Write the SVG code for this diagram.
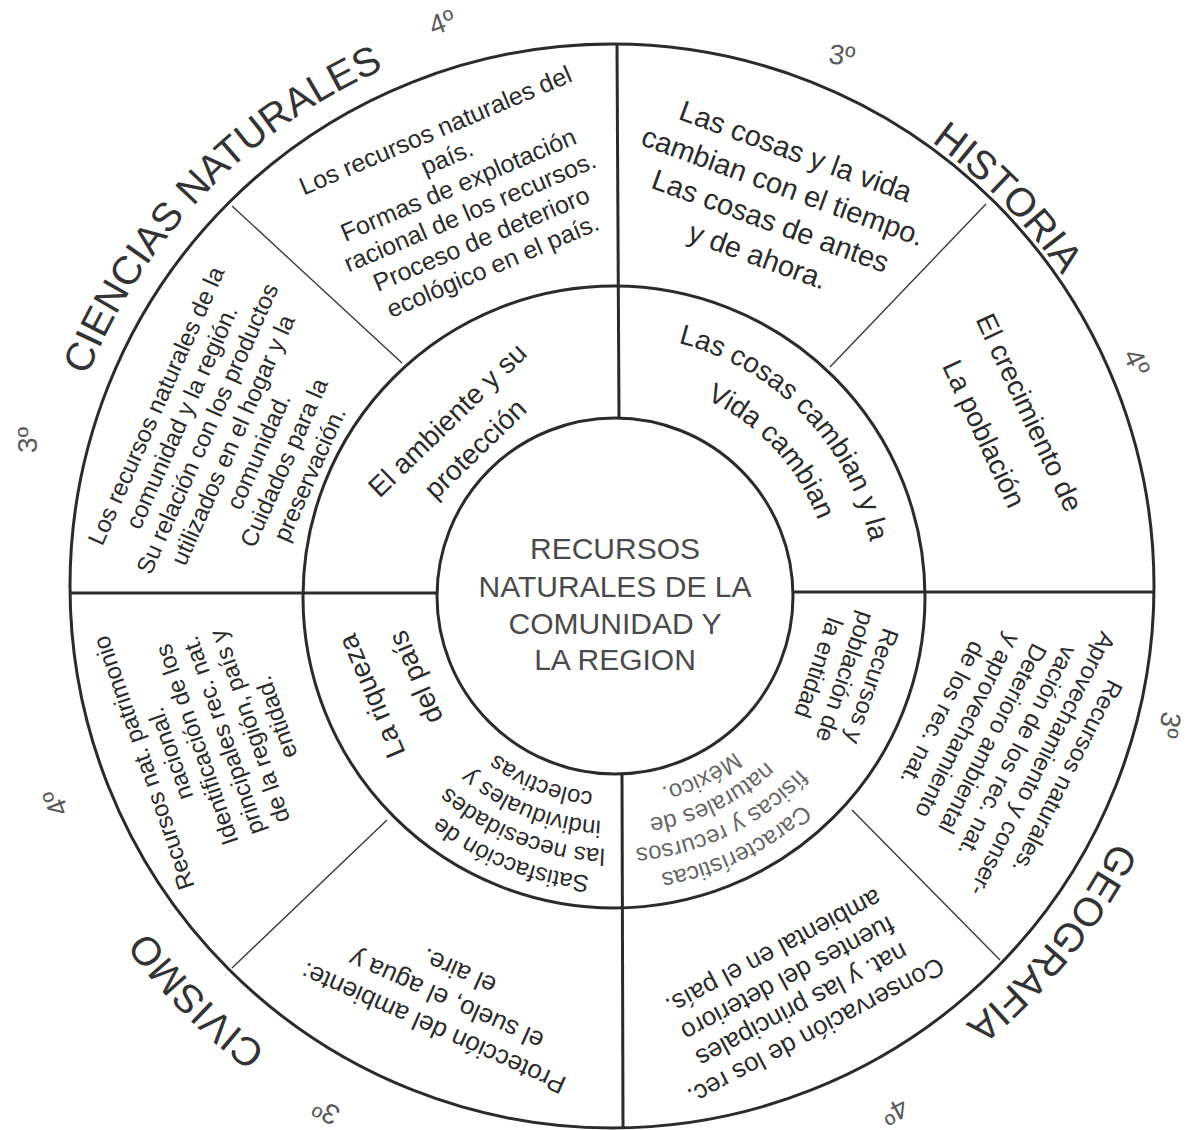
<svg xmlns="http://www.w3.org/2000/svg" width="1192" height="1130" viewBox="0 0 1192 1130">
<defs>
<style>
.ln{stroke:#2b2b2b;stroke-width:3;fill:none}
.thin{stroke:#3a3a3a;stroke-width:1.4;fill:none}
.t{font-family:"Liberation Sans",Arial,sans-serif;fill:#2b2b2b;text-anchor:middle}
.g{font-family:"Liberation Sans",Arial,sans-serif;fill:#5a5a5a;font-size:28px;text-anchor:middle}
.title{font-size:40px;fill:#333}
.p25{font-size:25px}
.p24{font-size:24px}
.p26{font-size:26px}
.p28{font-size:28px}
.p29{font-size:29px}
.fade{fill:#666}
</style>
<path id="oCN" d="M47,586 A565,565 0 1 1 1177,586 A565,565 0 1 1 47,586"/>
<path id="oHI" d="M65,586 A547,547 0 1 1 1159,586 A547,547 0 1 1 65,586"/>
<path id="oGE" d="M49,586 A563,563 0 1 1 1175,586 A563,563 0 1 1 49,586"/>
<path id="oCI" d="M34,586 A578,578 0 1 1 1190,586 A578,578 0 1 1 34,586"/>
<path id="m262" d="M352,597 A262,262 0 1 1 876,597 A262,262 0 1 1 352,597"/>
<path id="m218" d="M396,597 A218,218 0 1 1 832,597 A218,218 0 1 1 396,597"/>
<path id="m280" d="M334,597 A280,280 0 1 1 894,597 A280,280 0 1 1 334,597"/>
<path id="m252" d="M362,597 A252,252 0 1 1 866,597 A252,252 0 1 1 362,597"/>
<path id="m224" d="M390,597 A224,224 0 1 1 838,597 A224,224 0 1 1 390,597"/>
<path id="m196" d="M418,597 A196,196 0 1 1 810,597 A196,196 0 1 1 418,597"/>
</defs>
<rect width="1192" height="1130" fill="#ffffff"/>

<g id="connectors">
<circle class="ln" cx="612" cy="586" r="542"/>
<circle class="ln" cx="614" cy="597" r="311"/>
<circle class="ln" cx="615" cy="596" r="178"/>
<line class="ln" x1="617" y1="44" x2="619" y2="418"/>
<line class="ln" x1="622" y1="774" x2="623" y2="1128"/>
<line class="ln" x1="70" y1="593" x2="437" y2="593"/>
<line class="ln" x1="793" y1="592" x2="1154" y2="592"/>
<line class="thin" x1="232" y1="206" x2="402" y2="363"/>
<line class="thin" x1="986" y1="204" x2="830" y2="367"/>
<line class="thin" x1="232" y1="968" x2="387" y2="820"/>
<line class="thin" x1="1000" y1="960" x2="852" y2="810"/>
</g>

<g id="center">
<text class="t" style="font-size:30px;fill:#4a4a4a"><tspan x="615" y="559">RECURSOS</tspan><tspan x="615" y="597">NATURALES DE LA</tspan><tspan x="615" y="634">COMUNIDAD Y</tspan><tspan x="615" y="670">LA REGION</tspan></text>
</g>

<g id="title-ciencias"><text class="t title"><textPath href="#oCN" startOffset="434">CIENCIAS NATURALES</textPath></text></g>
<g id="title-historia"><text class="t title"><textPath href="#oHI" startOffset="1294">HISTORIA</textPath></text></g>
<g id="title-geografia"><text class="t title"><textPath href="#oGE" startOffset="2152">GEOGRAFIA</textPath></text></g>
<g id="title-civismo"><text class="t title"><textPath href="#oCI" startOffset="3178">CIVISMO</textPath></text></g>

<g id="grades">
<text class="g" transform="translate(442,22) rotate(-20)" y="10">4º</text>
<text class="g" transform="translate(842,55) rotate(8)" y="10">3º</text>
<text class="g" transform="translate(27,440) rotate(-90)" y="10">3º</text>
<text class="g" transform="translate(1137,362) rotate(65)" y="10">4º</text>
<text class="g" transform="translate(1170,725) rotate(100)" y="10">3º</text>
<text class="g" transform="translate(55,803) rotate(-111)" y="10">4º</text>
<text class="g" transform="translate(326,1112) rotate(-152)" y="10">3º</text>
<text class="g" transform="translate(895,1112) rotate(152)" y="10">4º</text>
</g>

<g id="cn4">
<text class="t p25" transform="translate(464,198) rotate(-23)"><tspan x="0" y="-65">Los recursos naturales del</tspan><tspan x="0" y="-35.6">país.</tspan><tspan x="0" y="-6">Formas de explotación</tspan><tspan x="0" y="23.4">racional de los recursos.</tspan><tspan x="0" y="52.8">Proceso de deterioro</tspan><tspan x="0" y="82.2">ecológico en el país.</tspan></text>
</g>

<g id="cn3">
<text class="t p24" transform="translate(233,440) rotate(-66)"><tspan x="0" y="-76">Los recursos naturales de la</tspan><tspan x="0" y="-48">comunidad y la región.</tspan><tspan x="0" y="-20">Su relación con los productos</tspan><tspan x="0" y="8">utilizados en el hogar y la</tspan><tspan x="0" y="36">comunidad.</tspan><tspan x="0" y="64">Cuidados para la</tspan><tspan x="0" y="92">preservación.</tspan></text>
</g>

<g id="hi3">
<text class="t p29" transform="translate(777,203) rotate(20)"><tspan x="0" y="-45">Las cosas y la vida</tspan><tspan x="0" y="-8">cambian con el tiempo.</tspan><tspan x="0" y="29">Las cosas de antes</tspan><tspan x="0" y="66">y de ahora.</tspan></text>
</g>

<g id="hi4">
<text class="t p28" transform="translate(1007,423) rotate(65)"><tspan x="0" y="-15">El crecimiento de</tspan><tspan x="0" y="35">La población</tspan></text>
</g>

<g id="ge3">
<text class="t p24" transform="translate(1005,745) rotate(117)"><tspan x="0" y="-62">Recursos naturales.</tspan><tspan x="0" y="-34">Aprovechamiento y conser-</tspan><tspan x="0" y="-6">vación de los rec. nat.</tspan><tspan x="0" y="22">Deterioro ambiental</tspan><tspan x="0" y="50">y aprovechamiento</tspan><tspan x="0" y="78">de los rec. nat.</tspan></text>
</g>

<g id="ge4">
<text class="t p26" transform="translate(795,992) rotate(152)"><tspan x="0" y="-36">Conservación de los rec.</tspan><tspan x="0" y="-6">nat. y las principales</tspan><tspan x="0" y="24">fuentes del deterioro</tspan><tspan x="0" y="54">ambiental en el país.</tspan></text>
</g>

<g id="ci3">
<text class="t p26" transform="translate(446,1000) rotate(-156)"><tspan x="0" y="-22">Protección del ambiente:</tspan><tspan x="0" y="9">el suelo, el agua y</tspan><tspan x="0" y="40">el aire.</tspan></text>
</g>

<g id="ci4">
<text class="t p24" transform="translate(210,740) rotate(-109)"><tspan x="0" y="-62">Recursos nat. patrimonio</tspan><tspan x="0" y="-34">nacional.</tspan><tspan x="0" y="-6">Identificación de los</tspan><tspan x="0" y="22">principales rec. nat.</tspan><tspan x="0" y="50">de la región, país y</tspan><tspan x="0" y="78">entidad.</tspan></text>
</g>

<g id="m-ambiente">
<text class="t p28" transform="translate(461,434) rotate(-44)"><tspan x="0" y="-10">El ambiente y su</tspan><tspan x="0" y="30">protección</tspan></text>
</g>

<g id="m-cosas">
<text class="t p28"><textPath href="#m262" startOffset="622">Las cosas cambian y la</textPath></text>
<text class="t p28"><textPath href="#m218" startOffset="522">Vida cambian</textPath></text>
</g>

<g id="m-riqueza">
<text class="t p28" transform="translate(393,687) rotate(-113)"><tspan x="0" y="-14">La riqueza</tspan><tspan x="0" y="34">del país</tspan></text>
</g>

<g id="m-satisfaccion">
<text class="t p24"><textPath href="#m280" startOffset="1425">Satisfacción de</textPath></text>
<text class="t p24"><textPath href="#m252" startOffset="1282">las necesidades</textPath></text>
<text class="t p24"><textPath href="#m224" startOffset="1140">individuales y</textPath></text>
<text class="t p24"><textPath href="#m196" startOffset="997">colectivas</textPath></text>
</g>

<g id="m-recursos">
<text class="t p24" transform="translate(845,677) rotate(109)"><tspan x="0" y="-20">Recursos y</tspan><tspan x="0" y="8">población de</tspan><tspan x="0" y="36">la entidad</tspan></text>
</g>

<g id="m-caracteristicas">
<text class="t p24 fade"><textPath href="#m280" startOffset="1192">Características</textPath></text>
<text class="t p24 fade"><textPath href="#m252" startOffset="1073">físicas y recursos</textPath></text>
<text class="t p24 fade"><textPath href="#m224" startOffset="954">naturales de</textPath></text>
<text class="t p24 fade"><textPath href="#m196" startOffset="835">México.</textPath></text>
</g>
</svg>
